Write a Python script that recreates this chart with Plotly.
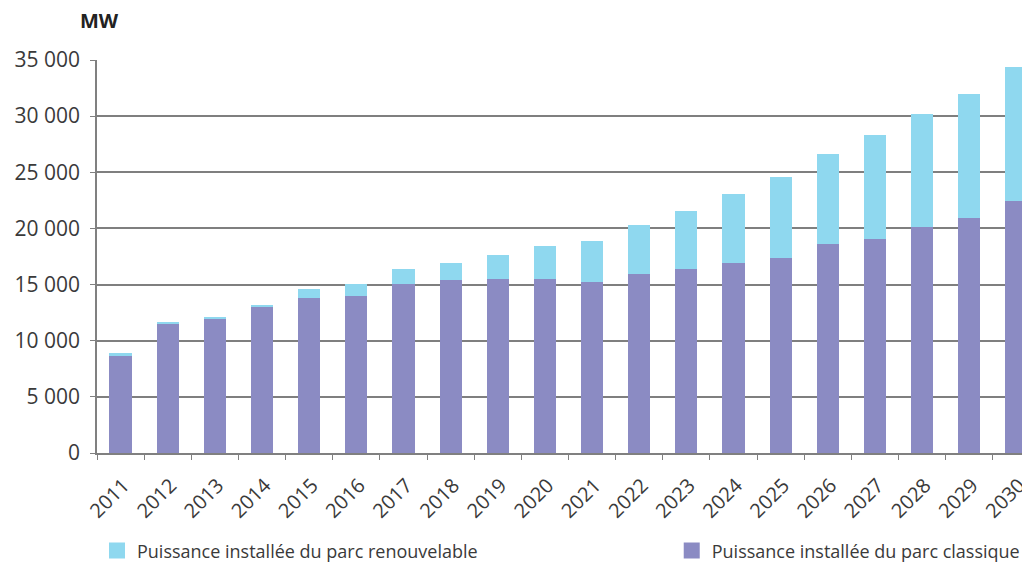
import plotly.graph_objects as go

years = [str(y) for y in range(2011, 2031)]
classique = [8600, 11500, 11900, 13000, 13800, 14000, 15050, 15450, 15470, 15470,
             15260, 15910, 16360, 16950, 17390, 18640, 19060, 20100, 20950, 22440]
renouvelable = [350, 200, 200, 200, 850, 1050, 1300, 1500, 2150, 2950,
                3600, 4400, 5200, 6100, 7150, 8000, 9250, 10100, 11000, 11950]

name_ren = "Puissance installée du parc renouvelable"
name_cla = "Puissance installée du parc classique"
col_ren = "#8fd8ef"
col_cla = "#8b8bc3"
FONT = "Open Sans"
TXT = "#3a3a3a"

fig = go.Figure()
fig.add_trace(go.Bar(x=years, y=classique, name=name_cla, marker=dict(color=col_cla, line=dict(width=0)),
                     width=0.47, showlegend=False))
fig.add_trace(go.Bar(x=years, y=renouvelable, name=name_ren, marker=dict(color=col_ren, line=dict(width=0)),
                     width=0.47, showlegend=False))
# legend entries
fig.add_trace(go.Scatter(x=[None], y=[None], mode="markers", name=name_ren, legend="legend",
                         marker=dict(symbol="square", size=22, color=col_ren)))
fig.add_trace(go.Scatter(x=[None], y=[None], mode="markers", name=name_cla, legend="legend2",
                         marker=dict(symbol="square", size=22, color=col_cla)))

leg_common = dict(orientation="h", y=-0.249, yanchor="middle", xanchor="left",
                  font=dict(size=18, color=TXT), bgcolor="rgba(0,0,0,0)")
fig.update_layout(
    width=1022, height=558,
    barmode="stack",
    bargap=0.53,
    separators=", ",
    plot_bgcolor="white", paper_bgcolor="white",
    margin=dict(l=89, r=0, t=52, b=113, autoexpand=False),
    font=dict(family=FONT, color=TXT),
    legend=dict(x=0, **leg_common),
    legend2=dict(x=0.616, **leg_common),
    annotations=[dict(text="<b>MW</b>", xref="paper", yref="paper", x=0.003, y=1.100,
                      xanchor="center", yanchor="middle", showarrow=False,
                      font=dict(size=20, color="#222222", family=FONT))],
)
fig.update_xaxes(type="category", range=[-0.5, 19.29], showline=True, linecolor="#808080", linewidth=1.5,
                 ticks="outside", tickson="boundaries", ticklen=5, tickcolor="#808080",
                 tickangle=-45, tickfont=dict(size=20, color=TXT), showgrid=False, automargin=False,
                 ticklabelstandoff=11, ticklabelshift=3)
fig.update_yaxes(range=[0, 35000], dtick=5000, tickformat=",d", showline=True, linecolor="#808080",
                 linewidth=1.5, ticks="outside", ticklen=5, tickcolor="#808080",
                 gridcolor="#7f7f7f", gridwidth=2, tickfont=dict(size=21, color=TXT),
                 zeroline=False, automargin=False, ticklabelstandoff=6)

fig.write_html("out.html")
